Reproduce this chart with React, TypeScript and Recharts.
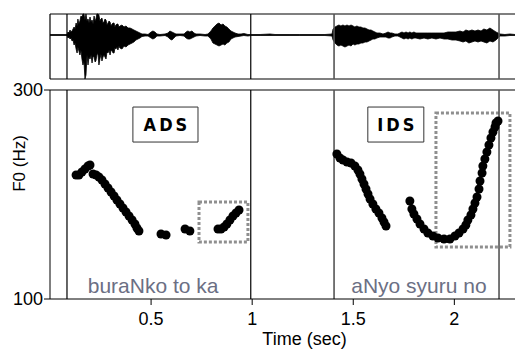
import React from 'react';
import {
  ComposedChart,
  Area,
  XAxis,
  YAxis,
  ReferenceLine,
  ScatterChart,
  Scatter,
  ReferenceArea,
  ReferenceDot,
} from 'recharts';

const FONT = '"Liberation Sans", Arial, sans-serif';

// ---- waveform envelope (time in s, amplitude in arbitrary units) ----
const waveTime = [
  0, 0.084, 0.089, 0.094, 0.099, 0.104, 0.109, 0.114, 0.119, 0.124,
  0.129, 0.134, 0.138, 0.143, 0.148, 0.153, 0.158, 0.163, 0.168, 0.173,
  0.178, 0.183, 0.188, 0.193, 0.198, 0.203, 0.208, 0.213, 0.218, 0.223,
  0.227, 0.232, 0.237, 0.242, 0.247, 0.252, 0.257, 0.262, 0.267, 0.272,
  0.277, 0.282, 0.287, 0.292, 0.297, 0.302, 0.307, 0.312, 0.317, 0.321,
  0.326, 0.331, 0.336, 0.341, 0.346,
  0.356, 0.366, 0.376, 0.386, 0.396, 0.406, 0.415,
  0.425, 0.435, 0.445, 0.455, 0.470, 0.485, 0.500, 0.509, 0.519, 0.529,
  0.544, 0.569, 0.584, 0.593, 0.603, 0.613, 0.623, 0.643, 0.663, 0.673,
  0.682, 0.692, 0.702, 0.712, 0.722, 0.742, 0.767, 0.781, 0.796, 0.806,
  0.816, 0.826, 0.836, 0.846, 0.856, 0.865, 0.875, 0.885, 0.895, 0.905,
  0.915, 0.930, 0.945, 0.959, 0.979, 0.994, 1.039, 1.088, 1.113, 1.187,
  1.236, 1.360, 1.395, 1.400, 1.410, 1.419, 1.429, 1.439, 1.449, 1.459,
  1.469, 1.479, 1.489, 1.499, 1.508, 1.518, 1.528, 1.538, 1.548, 1.558,
  1.568, 1.578, 1.588, 1.597, 1.607, 1.617, 1.632, 1.647, 1.662, 1.672,
  1.682, 1.691, 1.706, 1.721, 1.731, 1.741, 1.751, 1.761, 1.771, 1.780,
  1.790, 1.800, 1.810, 1.830, 1.850, 1.869, 1.889, 1.909, 1.929, 1.949,
  1.968, 1.988, 2.008, 2.028, 2.043, 2.057, 2.072, 2.087, 2.102, 2.117,
  2.132, 2.146, 2.161, 2.176, 2.191, 2.206, 2.216, 2.226, 2.250, 2.275,
  2.300,
];
const waveUp = [
  0.5, 0.5, 3, 2, 5, 3, 4, 6, 8, 6,
  12, 9, 16, 11, 14, 19, 18, 21, 21, 15,
  21, 14, 16, 12, 18, 13, 15, 11, 19, 14,
  16, 21, 21, 20, 14, 16, 17, 12, 13, 16,
  15, 10, 12, 14, 13, 9, 11, 12, 12, 8,
  10, 11, 11, 8, 9,
  10, 8, 9, 7, 7, 6, 5,
  4, 3, 2, 1, 1, 0.5, 3, 4, 3, 1,
  0.5, 1, 2, 4, 3, 2, 1, 1, 1, 3,
  4, 3, 4, 2, 1, 1, 0.5, 1, 4, 7,
  9, 11, 12, 10, 11, 9, 8, 6, 4, 3,
  2, 1, 1, 1.5, 0.5, 0.5, 0.5, 1, 0.5, 0.5,
  0.5, 0.5, 1, 6, 8, 9, 10, 9, 10, 9,
  10, 9, 10, 9, 8, 9, 8, 8, 7, 7,
  6, 5, 5, 4, 3, 2, 2, 1, 2, 3,
  2, 2, 1, 1, 2, 3, 2, 3, 2, 3,
  2, 3, 2, 2, 2, 2, 2, 2, 2, 2,
  3, 3, 3, 4, 3, 5, 4, 5, 4, 5,
  4, 6, 5, 7, 5, 3, 2, 1, 0.5, 1,
  0.5,
];
const waveDown = [
  0.5, 0.5, 3, 2, 4, 3, 6, 5, 10, 8,
  14, 18, 12, 16, 20, 15, 24, 30, 26, 44,
  40, 20, 30, 22, 24, 20, 28, 21, 22, 27,
  26, 20, 18, 30, 24, 19, 26, 22, 20, 22,
  24, 17, 18, 15, 20, 15, 16, 18, 18, 13,
  14, 12, 15, 11, 13,
  14, 11, 12, 10, 9, 8, 7,
  5, 4, 3, 1.5, 1, 1, 3, 4, 3, 1,
  1, 0.5, 2, 4, 5, 3, 1, 0.5, 1, 3,
  4, 4, 3, 2, 1, 0.5, 1, 1, 4, 8,
  9, 10, 11, 10, 9, 10, 8, 7, 4, 3,
  2, 1.5, 1, 0.5, 1, 0.5, 0.5, 0.5, 0.5, 0.5,
  0.5, 0.5, 1, 5, 8, 10, 11, 10, 11, 12,
  11, 10, 11, 9, 10, 9, 9, 8, 8, 7,
  7, 6, 5, 4, 4, 3, 2, 2, 2, 3,
  3, 2, 1, 1, 2, 3, 4, 3, 4, 3,
  4, 3, 3, 4, 3, 4, 3, 4, 3, 4,
  4, 5, 5, 6, 7, 6, 8, 7, 6, 7,
  6, 7, 8, 6, 7, 5, 3, 1, 1, 0.5,
  0.5,
];

// ---- F0 tracks ----
const adsTime = [
  0.129, 0.143, 0.158, 0.173, 0.188, 0.198,
  0.213, 0.228, 0.242, 0.257, 0.272, 0.287, 0.302, 0.317, 0.331, 0.346,
  0.361, 0.376, 0.391, 0.406, 0.420, 0.430, 0.440,
  0.549, 0.574,
  0.668, 0.692,
  0.831, 0.846, 0.861, 0.875, 0.890, 0.905, 0.920, 0.935,
];
const adsF0 = [
  218.7, 218.7, 221.5, 224.4, 227.3, 228.2,
  219.6, 218.7, 216.7, 213.9, 210.0, 206.2, 202.4, 198.6, 194.7, 190.9,
  187.1, 183.3, 179.4, 175.6, 171.8, 167.9, 165.1,
  162.2, 161.2,
  167.0, 165.1,
  167.0, 167.0, 168.9, 171.8, 175.6, 179.4, 182.3, 185.2,
];
const idsTime = [
  1.419, 1.434, 1.449, 1.469, 1.489, 1.508, 1.523, 1.533, 1.543, 1.553,
  1.563, 1.573, 1.583, 1.597, 1.612, 1.627, 1.642, 1.652, 1.662,
  1.780, 1.790, 1.800, 1.815, 1.830, 1.850, 1.869, 1.894, 1.919, 1.949,
  1.978, 2.003, 2.023, 2.043, 2.057, 2.067, 2.082, 2.092, 2.102, 2.112,
  2.122, 2.127, 2.137, 2.141, 2.151, 2.161, 2.171, 2.181, 2.191, 2.201,
  2.206, 2.216,
];
const idsF0 = [
  238.8, 234.9, 233.0, 231.1, 230.1, 227.3, 223.4, 219.6, 214.8, 210.0,
  205.3, 200.5, 195.7, 190.9, 186.1, 182.3, 177.5, 173.7, 169.9,
  193.8, 186.1, 181.3, 176.6, 171.8, 167.0, 163.2, 160.3, 158.4, 157.4,
  157.4, 160.3, 163.2, 167.0, 170.8, 175.6, 180.4, 186.1, 191.9, 197.6,
  205.3, 212.9, 220.6, 227.3, 234.0, 240.7, 247.4, 254.1, 259.8, 264.6,
  268.4, 270.3,
];

// ---- axes / annotations ----
const xTicks = [0.5, 1, 1.5, 2];
const yTicks = [100, 300];
const boundaryTimes = [0.084, 0.993, 1.405, 2.221];
const boundaryColors = ['#000', '#000', '#555', '#555'];
const styleLabels = ['ADS', 'IDS'];
const styleBoxT = [[0.41, 0.732], [1.572, 1.849]];
const styleBoxF = [250.2, 283.7];
const focusBoxT = [[0.737, 0.979], [1.909, 2.275]];
const focusBoxF = [[154.5, 192.8], [149.8, 278.0]];
const phrases = ['buraNko to ka', 'aNyo syuru no'];
const phraseT = [0.51, 1.825];
const phraseF = 105.7;

const boxLabel = (text: string) => (props: any) => {
  const vb = props.viewBox || { x: 0, y: 0, width: 0, height: 0 };
  return (
    <text
      x={vb.x + vb.width / 2 + 1.5}
      y={vb.y + vb.height / 2}
      textAnchor="middle"
      dominantBaseline="central"
      fontSize={18}
      fontWeight="bold"
      letterSpacing={3}
      fill="#000"
      style={{ fontFamily: '"DejaVu Sans Condensed", "Liberation Sans Narrow", sans-serif' }}
    >
      {text}
    </text>
  );
};

const phraseLabel = (text: string) => (props: any) => {
  const vb = props.viewBox || { x: 0, y: 0, width: 0, height: 0 };
  return (
    <text
      x={vb.x + vb.width / 2}
      y={vb.y + vb.height / 2}
      textAnchor="middle"
      fontSize={21}
      fill="#6b6f84"
    >
      {text}
    </text>
  );
};

const timeLabel = (props: any) => {
  const vb = props.viewBox || { x: 0, y: 0, width: 0, height: 0 };
  return (
    <text x={vb.x + vb.width / 2 + 22} y={vb.y + vb.height - 5} textAnchor="middle" fontSize={18} fill="#000">
      Time (sec)
    </text>
  );
};

const f0Label = (props: any) => {
  const vb = props.viewBox || { x: 0, y: 0, width: 0, height: 0 };
  const x = vb.x + 19;
  const y = vb.y + vb.height / 2 - 31;
  return (
    <text
      x={x}
      y={y}
      transform={`rotate(-90 ${x} ${y})`}
      textAnchor="middle"
      dominantBaseline="central"
      fontSize={17}
      fill="#000"
    >
      F0 (Hz)
    </text>
  );
};

const dotShape = (p: any) => <circle cx={p.cx} cy={p.cy} r={4.5} fill="#000" />;

export default function App() {
  const waveData = waveTime.map((t, i) => ({ t, amp: [-waveDown[i], waveUp[i]] }));
  const adsData = adsTime.map((t, i) => ({ t, f0: adsF0[i] }));
  const idsData = idsTime.map((t, i) => ({ t, f0: idsF0[i] }));

  return (
    <div style={{ position: 'absolute', left: 0, top: 0, width: 515, height: 350, fontFamily: FONT, background: '#fff', overflow: 'hidden' }}>
      <div style={{ position: 'absolute', left: 0, top: 0 }}>
        <ComposedChart width={515} height={90} data={waveData} margin={{ top: 14, right: 0, bottom: 11, left: 50 }}>
          <XAxis dataKey="t" type="number" domain={[0, 2.3]} hide />
          <YAxis type="number" domain={[-44, 21]} hide />
          <Area
            type="linear"
            dataKey="amp"
            fill="#000"
            fillOpacity={1}
            stroke="#000"
            strokeWidth={0.8}
            dot={false}
            activeDot={false}
            isAnimationActive={false}
          />
          <ReferenceLine y={21} stroke="#000" strokeWidth={1.2} />
          <ReferenceLine y={-44} stroke="#000" strokeWidth={1.2} />
          <ReferenceLine x={0} stroke="#000" strokeWidth={1.2} />
          {boundaryTimes.map((b, i) => (
            <ReferenceLine key={i} x={b} stroke={boundaryColors[i]} strokeWidth={i < 2 ? 1.2 : 1.6} />
          ))}
        </ComposedChart>
      </div>
      <div style={{ position: 'absolute', left: 0, top: 0 }}>
        <ScatterChart width={515} height={350} margin={{ top: 90, right: 0, bottom: 0, left: 0 }}>
          <XAxis
            dataKey="t"
            type="number"
            domain={[0, 2.3]}
            ticks={xTicks}
            interval={0}
            tickSize={6}
            tickMargin={7}
            height={51}
            stroke="#000"
            tick={{ fill: '#000', fontSize: 18 }}
            label={timeLabel}
          />
          <YAxis
            dataKey="f0"
            type="number"
            domain={[100, 300]}
            ticks={yTicks}
            interval={0}
            tickSize={6}
            tickMargin={1}
            width={50}
            stroke="#000"
            tick={{ fill: '#000', fontSize: 18 }}
            label={f0Label}
          />
          <ReferenceLine y={300} stroke="#000" strokeWidth={1.2} />
          {boundaryTimes.map((b, i) => (
            <ReferenceLine key={i} x={b} stroke={boundaryColors[i]} strokeWidth={i < 2 ? 1.2 : 1.6} />
          ))}
          {styleLabels.map((s, i) => (
            <ReferenceArea
              key={s}
              x1={styleBoxT[i][0]}
              x2={styleBoxT[i][1]}
              y1={styleBoxF[0]}
              y2={styleBoxF[1]}
              fill="#fff"
              fillOpacity={1}
              stroke="#333"
              strokeWidth={1}
              label={boxLabel(s)}
            />
          ))}
          {focusBoxT.map((fb, i) => (
            <ReferenceArea
              key={'f' + i}
              x1={fb[0]}
              x2={fb[1]}
              y1={focusBoxF[i][0]}
              y2={focusBoxF[i][1]}
              fill="none"
              stroke="#8f8f8f"
              strokeWidth={3}
              strokeDasharray="3 2"
            />
          ))}
          {phrases.map((p, i) => (
            <ReferenceDot key={p} x={phraseT[i]} y={phraseF} r={0} fill="none" stroke="none" label={phraseLabel(p)} />
          ))}
          <Scatter data={adsData} dataKey="f0" shape={dotShape} isAnimationActive={false} />
          <Scatter data={idsData} dataKey="f0" shape={dotShape} isAnimationActive={false} />
        </ScatterChart>
      </div>
    </div>
  );
}
